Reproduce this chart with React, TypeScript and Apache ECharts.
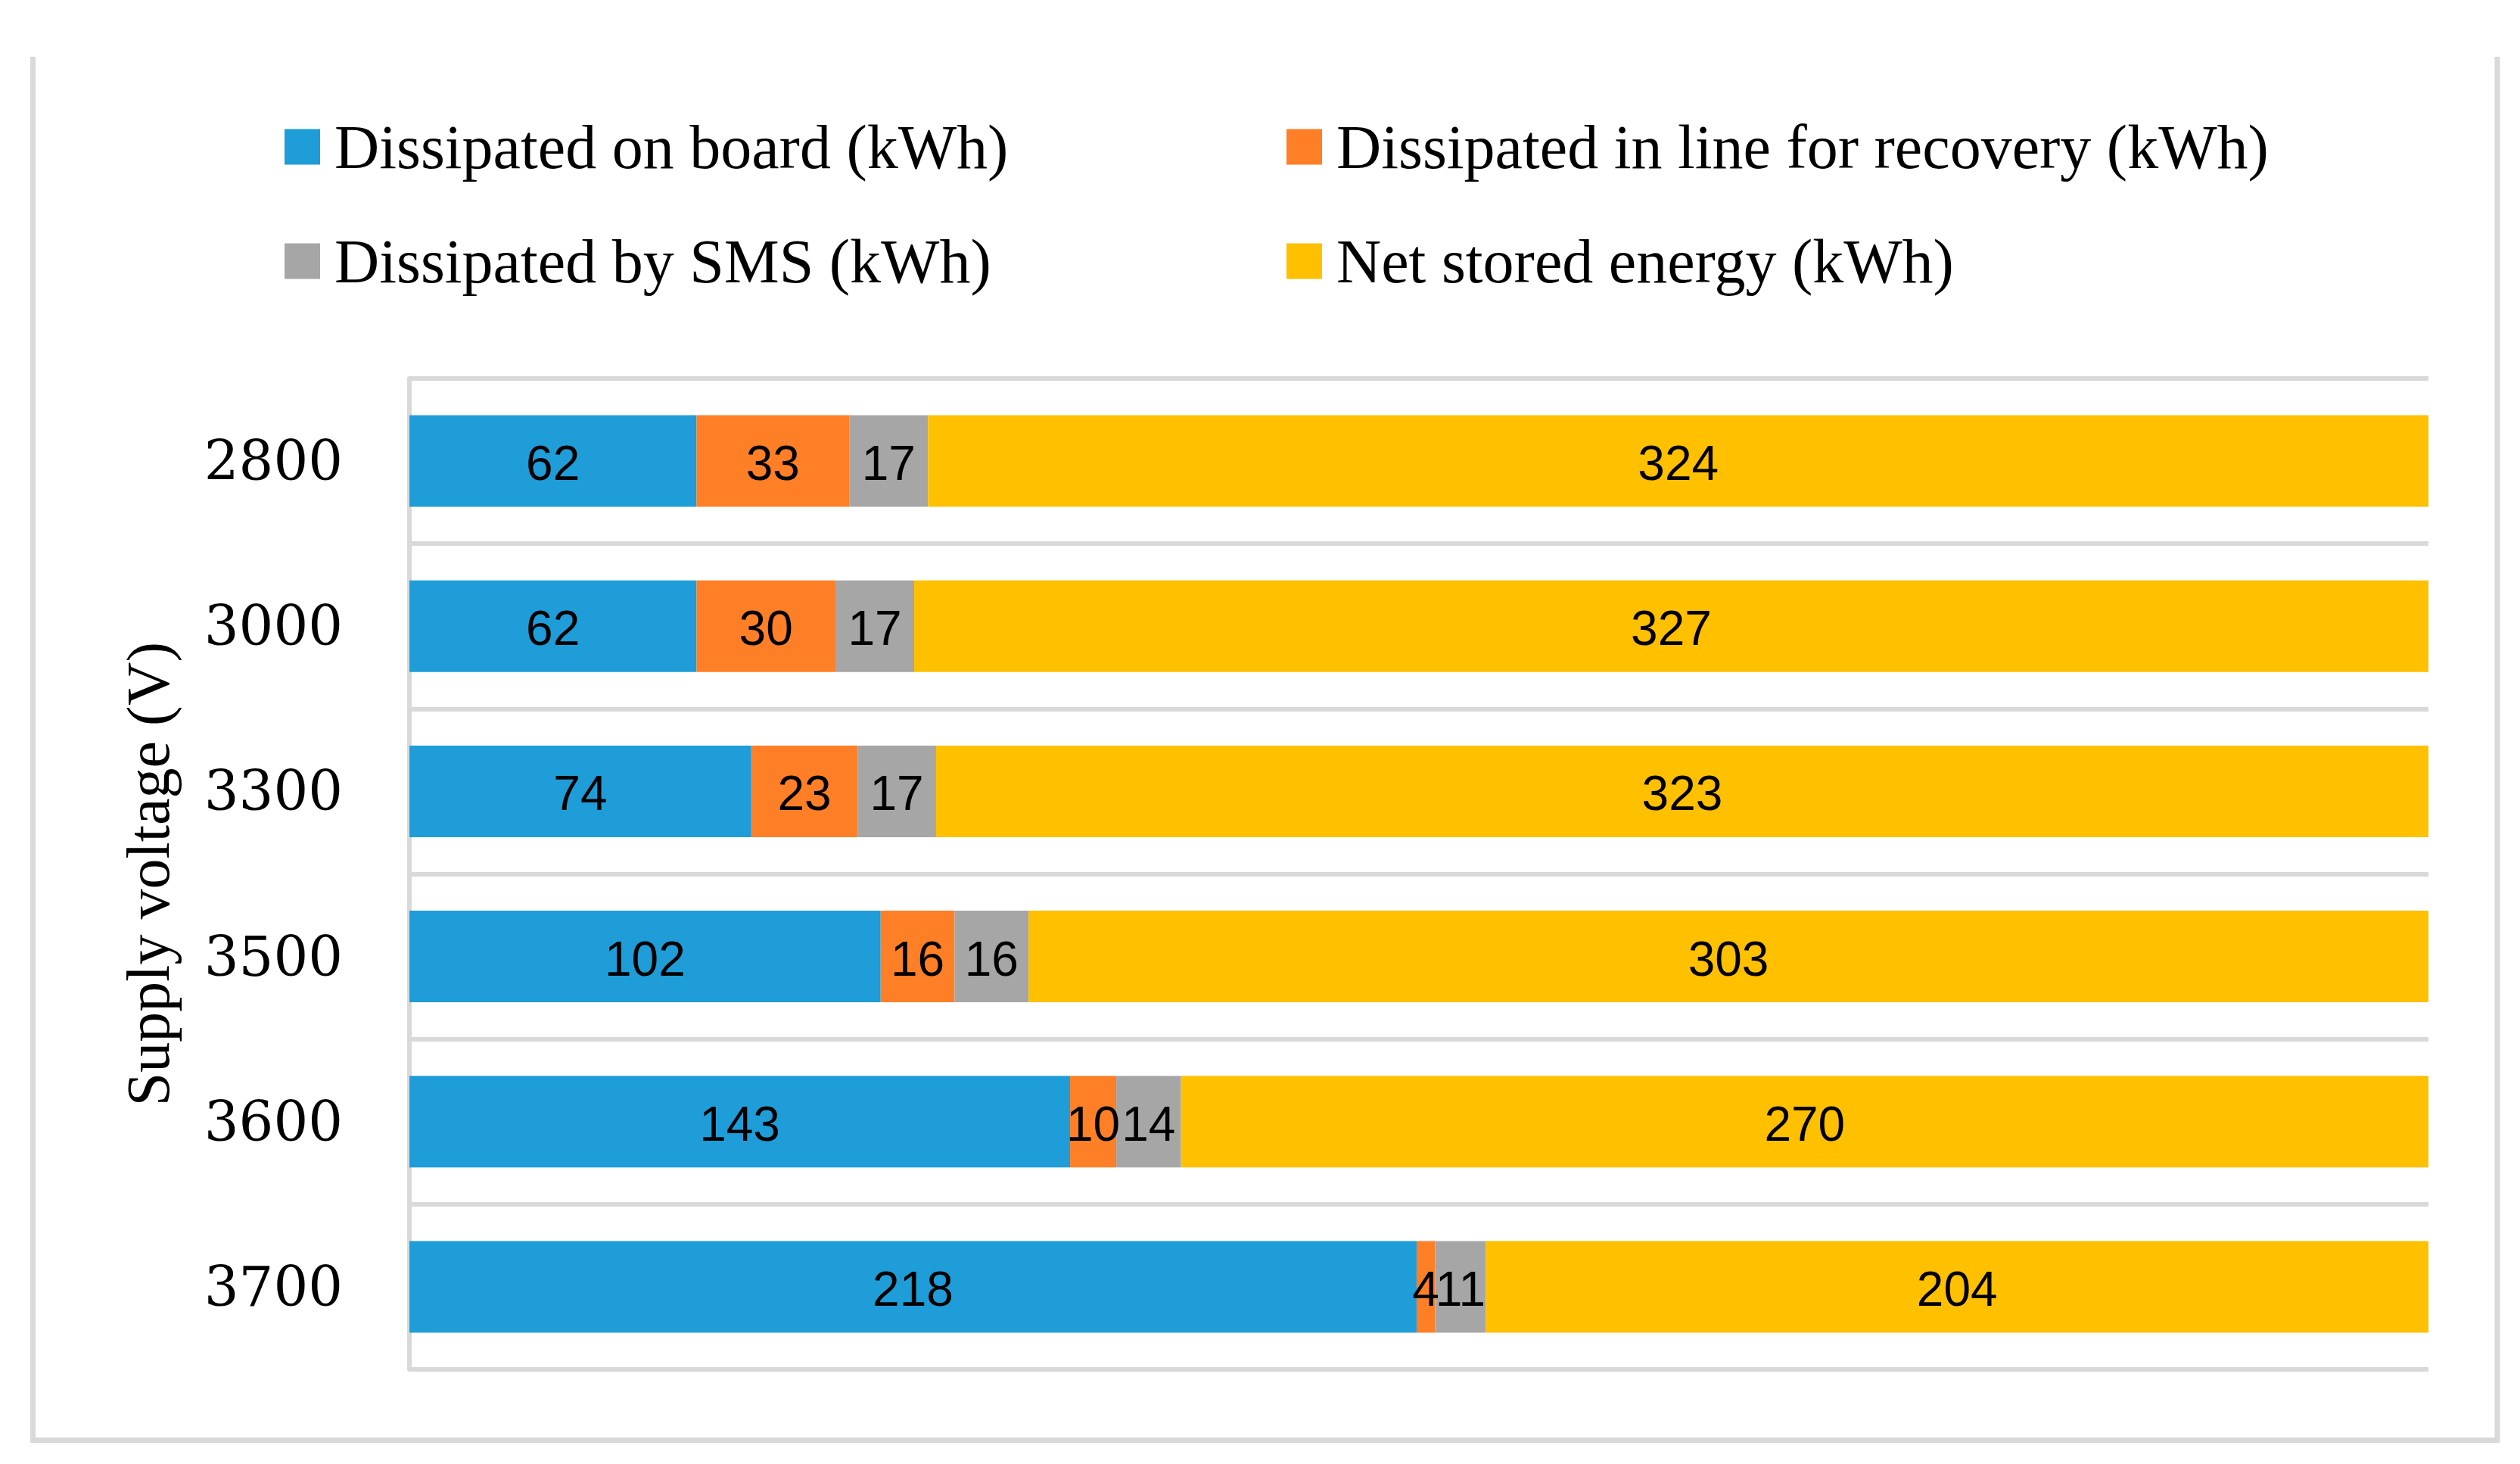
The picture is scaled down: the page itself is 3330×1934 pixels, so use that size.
import React, { useEffect, useRef } from "react";
import * as echarts from "echarts";

const categories = ["2800", "3000", "3300", "3500", "3600", "3700"];
const seriesNames = [
  "Dissipated on board (kWh)",
  "Dissipated in line for recovery (kWh)",
  "Dissipated by SMS (kWh)",
  "Net stored energy (kWh)",
];
const onBoard = [62, 62, 74, 102, 143, 218];
const lineRecovery = [33, 30, 23, 16, 10, 4];
const sms = [17, 17, 17, 16, 14, 11];
const netStored = [324, 327, 323, 303, 270, 204];
const colors = ["#1E9DD8", "#FF7F27", "#A6A6A6", "#FFC000"];
const yAxisTitle = "Supply voltage (V)";

const rawSeries = [onBoard, lineRecovery, sms, netStored];

export default function App() {
  const ref = useRef<HTMLDivElement>(null);

  useEffect(() => {
    if (!ref.current) return;
    const chart = echarts.init(ref.current, undefined, { renderer: "svg" });
    const totals = categories.map((_, i) =>
      rawSeries.reduce((s, arr) => s + arr[i], 0)
    );

    const legendPos = [
      { left: 376, top: 153 },
      { left: 1700, top: 153 },
      { left: 376, top: 304 },
      { left: 1700, top: 304 },
    ];

    const legends = seriesNames.map((name, i) => ({
      show: true,
      data: [name],
      left: legendPos[i].left,
      top: legendPos[i].top,
      padding: 0,
      icon: "rect",
      itemWidth: 47,
      itemHeight: 47,
      orient: "horizontal",
      textStyle: {
        fontFamily: "Liberation Serif",
        fontSize: 82,
        lineHeight: 76,
        color: "#000",
        padding: [0, 0, 0, 14],
      },
    }));

    const option: any = {
      animation: false,
      backgroundColor: "#ffffff",
      color: colors,
      legend: legends,
      grid: { left: 541, right: 121, top: 500, bottom: 125, containLabel: false },
      xAxis: {
        type: "value",
        min: 0,
        max: 100,
        show: false,
        splitLine: { show: false },
      },
      yAxis: {
        type: "category",
        data: categories,
        inverse: true,
        name: yAxisTitle,
        nameLocation: "middle",
        nameGap: 305,
        nameTextStyle: {
          fontFamily: "Liberation Serif",
          fontSize: 80,
          color: "#000",
        },
        axisLine: { show: true, lineStyle: { color: "#D9D9D9", width: 6 } },
        axisTick: { show: false },
        axisLabel: {
          fontFamily: "DejaVu Serif",
          fontSize: 72,
          color: "#000",
          margin: 88,
        },
        splitLine: { show: true, lineStyle: { color: "#D9D9D9", width: 6 } },
      },
      graphic: [
        {
          type: "polyline",
          shape: {
            points: [
              [43.5, 75],
              [43.5, 1902.5],
              [3300, 1902.5],
              [3300, 75],
            ],
          },
          style: { stroke: "#D9D9D9", lineWidth: 7, fill: null },
          silent: true,
        },
      ],
      series: seriesNames.map((name, si) => ({
        name,
        type: "bar",
        stack: "total",
        barCategoryGap: "44.5%",
        data: rawSeries[si].map((v, i) => (v / totals[i]) * 100),
        itemStyle: { color: colors[si] },
        label: {
          show: true,
          position: "inside",
          fontFamily: "Liberation Sans",
          fontSize: 64,
          color: "#000",
          offset: [0, 3],
          formatter: (p: any) => String(rawSeries[si][p.dataIndex]),
        },
      })),
    };

    chart.setOption(option);
    return () => chart.dispose();
  }, []);

  return (
    <div
      ref={ref}
      style={{ position: "fixed", left: 0, top: 0, width: 3330, height: 1934 }}
    />
  );
}
